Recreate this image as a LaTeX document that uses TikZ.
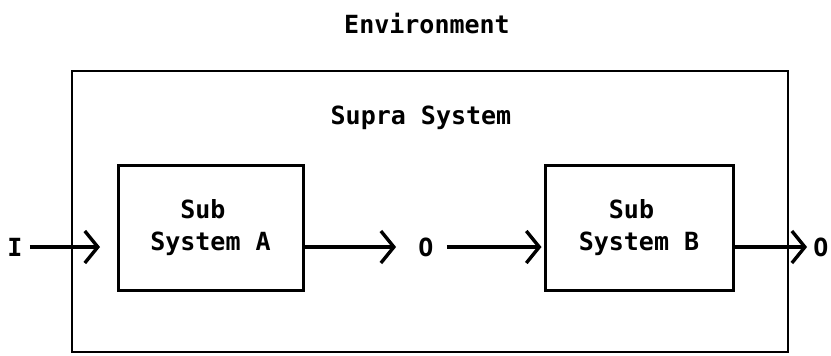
\documentclass[tikz,border=0pt]{standalone}
\usepackage{fontspec}
\newfontfamily\typefont{DejaVu Sans Mono}
\usetikzlibrary{arrows.meta}

\begin{document}
\begin{tikzpicture}[x=0.5pt, y=-0.5pt, >={Straight Barb[length=6.5pt, width=16pt]}]
				\tikzstyle{box} = [draw=black, line width=1.5pt, rectangle, inner sep=0pt, align=left, font=\typefont\bfseries\fontsize{12.5}{16}\selectfont]
				\tikzstyle{invis} = [draw=none, inner sep=0pt, font=\typefont\bfseries\fontsize{12.5}{16}\selectfont]
				\tikzstyle{flow} = [line width=1.7pt]
				
				\useasboundingbox (0,0) rectangle (831,355);
				
				\node[invis]			at (427, 24)	(e0)	{Environment};
				\node[box, line width=1.1pt, minimum width=358pt, minimum height=140.5pt]
										at (430, 211.5)	(s0)	{};
				\node[invis]			at (421, 118)	(s1)	{Supra System};
				\node[box, minimum width=92.5pt, minimum height=62.5pt]
										at (210.5, 228)	(b1)	{\phantom{Sy}Sub\\System A};
				\node[box, minimum width=94pt, minimum height=62.5pt]
										at (639, 228)	(b2)	{\phantom{Sy}Sub\\System B};
				\node[invis]			at (15, 247)	(i0)	{I};
				\coordinate				   (c0)	at (100, 247);
				\node[invis]			at (426, 247)	(o1)	{O};
				\node[invis]			at (821, 247)	(o2)	{O};
				
				\path[->, flow]
				(i0)				edge [shorten <=3.5pt]					(c0)
				(b1.east |- o1)		edge [shorten >=11pt]					(o1)
				(o1)				edge [shorten <=6.5pt, shorten >=1pt]	(b2.west |- o1)
				(b2.east |- o2)		edge [shorten >=3pt]					(o2);
			\end{tikzpicture}
\end{document}
